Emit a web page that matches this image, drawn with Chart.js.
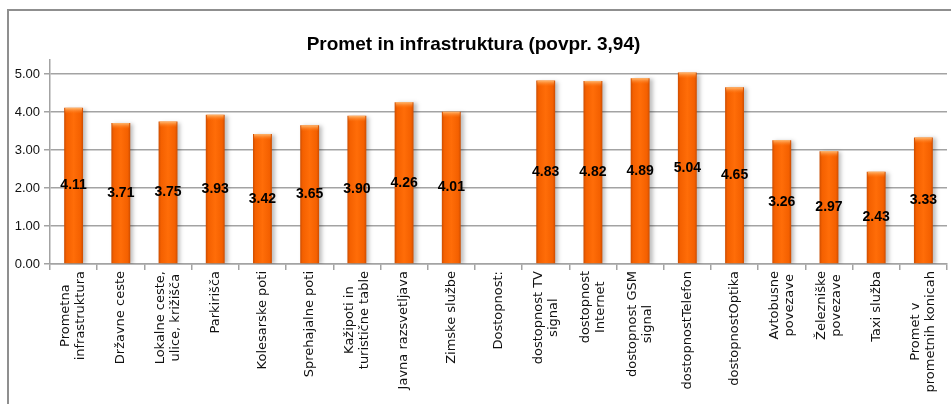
<!DOCTYPE html>
<html>
<head>
<meta charset="utf-8">
<script src="https://cdn.jsdelivr.net/npm/chart.js@4.4.1/dist/chart.umd.min.js"></script>
<style>
  html, body { margin: 0; padding: 0; background: #fff; overflow: hidden; width: 951px; height: 404px; }
  #frame { position: absolute; left: 7px; top: 9px; width: 960px; height: 420px;
           border-top: 2px solid #8f8f8f; border-left: 2px solid #8f8f8f; }
  #chart { position: absolute; left: 0; top: 0; }
</style>
</head>
<body>
<div id="frame"></div>
<canvas id="chart" width="951" height="420"></canvas>
<script>
const chartTitle = 'Promet in infrastruktura (povpr. 3,94)';

// category labels, one entry per bar (lines of the wrapped label)
const categories = [
  ['Prometna', 'infrastruktura'],
  ['Državne ceste'],
  ['Lokalne ceste,', 'ulice, križišča'],
  ['Parkirišča'],
  ['Kolesarske poti'],
  ['Sprehajalne poti'],
  ['Kažipoti in', 'turistične table'],
  ['Javna razsvetljava'],
  ['Zimske službe'],
  ['Dostopnost:'],
  ['dostopnost TV', 'signal'],
  ['dostopnost', 'Internet'],
  ['dostopnost GSM', 'signal'],
  ['dostopnostTelefon'],
  ['dostopnostOptika'],
  ['Avtobusne', 'povezave'],
  ['Železniške', 'povezave'],
  ['Taxi služba'],
  ['Promet v', 'prometnih konicah']
];

// average scores
const values = [4.11, 3.71, 3.75, 3.93, 3.42, 3.65, 3.90, 4.26, 4.01, null,
                4.83, 4.82, 4.89, 5.04, 4.65, 3.26, 2.97, 2.43, 3.33];

const yTicks = [0, 1, 2, 3, 4, 5];

const gridGray = '#a3a3a3';

// horizontal shading of each bar, darker at the edges
function barFill(context) {
  const chart = context.chart;
  const sc = chart.scales && chart.scales.x;
  if (!sc || context.dataIndex == null) return '#ff6600';
  const x = sc.getPixelForValue(context.dataIndex);
  if (!Number.isFinite(x)) return '#ff6600';
  const g = chart.ctx.createLinearGradient(x - 10, 0, x + 10, 0);
  g.addColorStop(0, '#c44800');
  g.addColorStop(0.15, '#f46000');
  g.addColorStop(0.5, '#ff6d08');
  g.addColorStop(0.85, '#f46000');
  g.addColorStop(1, '#c44800');
  return g;
}

const barDecor = {
  id: 'barDecor',
  beforeDatasetsDraw(chart) {
    const c = chart.ctx;
    c.save();
    c.shadowColor = 'rgba(0,0,0,0.25)';
    c.shadowBlur = 4;
    c.shadowOffsetX = 3;
    c.shadowOffsetY = 1;
  },
  afterDatasetsDraw(chart) {
    const c = chart.ctx;
    c.restore();
    const meta = chart.getDatasetMeta(0);
    c.save();
    meta.data.forEach((bar, i) => {
      if (values[i] == null) return;
      // light cap on top of the bar
      const w = bar.width;
      const g = c.createLinearGradient(0, bar.y, 0, bar.y + 6);
      g.addColorStop(0, 'rgba(255,190,120,0.95)');
      g.addColorStop(1, 'rgba(255,120,20,0)');
      c.fillStyle = g;
      c.fillRect(bar.x - w / 2 + 1, bar.y, w - 2, 6);
    });
    // value labels in the middle of the bars
    c.font = 'bold 14px "Liberation Sans", Arial, sans-serif';
    c.fillStyle = '#000';
    c.textAlign = 'center';
    c.textBaseline = 'middle';
    meta.data.forEach((bar, i) => {
      if (values[i] == null) return;
      c.fillText(values[i].toFixed(2), bar.x, (bar.y + bar.base) / 2);
    });
    c.restore();
  }
};

// rotated, centred category labels under the axis
const xLabels = {
  id: 'xLabels',
  afterDraw(chart) {
    const sc = chart.scales.x;
    const c = chart.ctx;
    const lh = 15;
    c.save();
    c.font = '13px "DejaVu Sans", Verdana, sans-serif';
    c.fillStyle = '#111';
    c.textAlign = 'center';
    c.textBaseline = 'middle';
    categories.forEach((lines, i) => {
      const x = sc.getPixelForTick(i);
      const maxW = Math.max(...lines.map(l => c.measureText(l).width));
      c.save();
      c.translate(x, sc.top + 7);
      c.rotate(-Math.PI / 2);
      lines.forEach((l, j) => {
        c.fillText(l, -maxW / 2, (j - (lines.length - 1) / 2) * lh);
      });
      c.restore();
    });
    c.restore();
  }
};

new Chart(document.getElementById('chart'), {
  type: 'bar',
  data: {
    labels: categories,
    datasets: [{
      data: values,
      backgroundColor: barFill,
      borderWidth: 0,
      categoryPercentage: 1,
      barPercentage: 0.4
    }]
  },
  options: {
    responsive: false,
    animation: false,
    layout: { padding: { left: 0, right: 4, top: 0, bottom: 0 } },
    plugins: {
      legend: { display: false },
      tooltip: { enabled: false },
      title: {
        display: true,
        text: chartTitle,
        color: '#000',
        font: { family: '"Liberation Sans Narrow", "Liberation Sans", Arial, sans-serif', size: 19, weight: 'bold', lineHeight: 1.2 },
        padding: { top: 33.6, bottom: 3.6 }
      }
    },
    scales: {
      x: {
        grid: { offset: true, drawOnChartArea: false, drawTicks: true, tickLength: 6, color: gridGray, lineWidth: 1.5 },
        border: { color: gridGray, width: 1.5 },
        ticks: { display: false },
        afterFit: s => { s.height = 156; }
      },
      y: {
        min: 0,
        max: 5.37,
        afterBuildTicks: s => { s.ticks = yTicks.map(v => ({ value: v })); },
        grid: { color: gridGray, lineWidth: 1.5, tickLength: 6 },
        border: { color: gridGray, width: 1.5 },
        ticks: {
          padding: 4,
          color: '#111',
          font: { family: '"Liberation Sans", Arial, sans-serif', size: 13 },
          callback: v => Number(v).toFixed(2)
        },
        afterFit: s => { s.width = 50; }
      }
    }
  },
  plugins: [barDecor, xLabels]
});
</script>
</body>
</html>
